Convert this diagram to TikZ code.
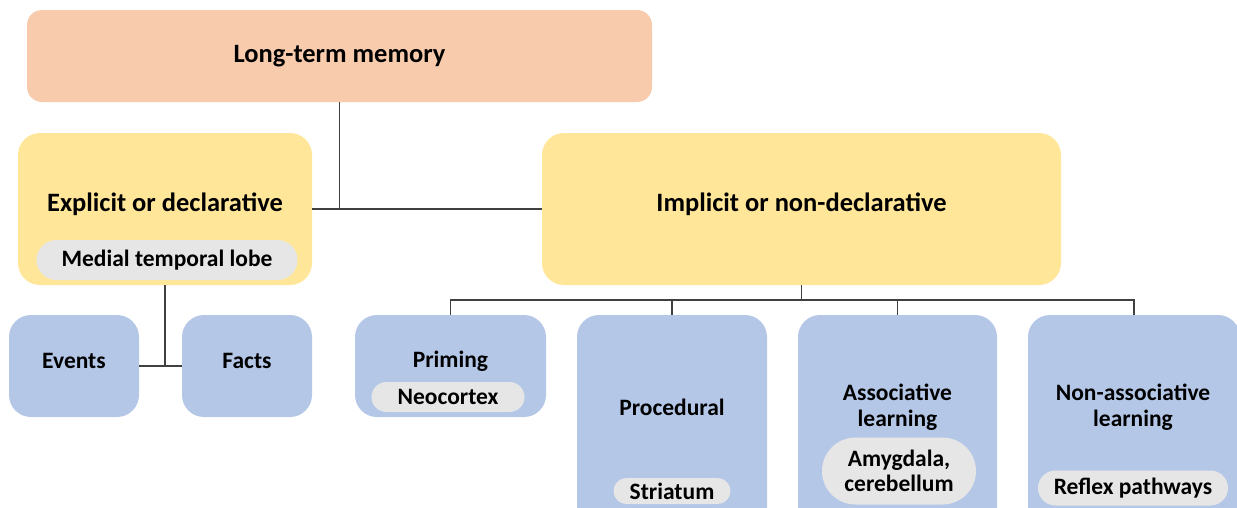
\documentclass[tikz,border=0pt]{standalone}
\usepackage{fontspec}
\setmainfont{Carlito}
\usetikzlibrary{shapes.misc,positioning,calc}
\definecolor{ltmfill}{HTML}{F8CBAD}
\definecolor{typefill}{HTML}{FFE699}
\definecolor{kindfill}{HTML}{B4C7E7}
\definecolor{areafill}{HTML}{E7E6E6}
\definecolor{linkgray}{HTML}{404040}

\begin{document}
\begin{tikzpicture}[x=1pt, y=-1pt, font=\bfseries,
  box/.style={rounded corners=22pt, inner sep=0pt, align=center},
  topbox/.style={box, rounded corners=15pt, fill=ltmfill, font=\bfseries\fontsize{26.5}{30}\selectfont},
  typebox/.style={box, fill=typefill},
  kindbox/.style={box, fill=kindfill},
  bigtext/.style={font=\bfseries\fontsize{26.5}{30}\selectfont, align=center},
  smalltext/.style={font=\bfseries\fontsize{23.5}{26}\selectfont, align=center},
  area/.style={rounded rectangle, fill=areafill, inner sep=0pt, smalltext, font=\bfseries\fontsize{23.5}{25}\selectfont},
  link/.style={draw=linkgray, line width=1.2pt}]
\useasboundingbox (0,0) rectangle (1237,507);
\clip (0,0) rectangle (1237,507);

% top level
\node[topbox, minimum width=625pt, minimum height=92pt] (ltm) at (339.5,56) {Long-term memory};

% declarative / non-declarative
\node[typebox, minimum width=294pt, minimum height=152pt] (expl) at (165,209) {};
\node[bigtext] (expltxt) at (165,204) {Explicit or declarative};
\node[area, minimum width=261pt, minimum height=40pt] (mtl) at (167,260) {Medial temporal lobe};
\node[typebox, minimum width=519pt, minimum height=152pt] (impl) at (801.5,209) {};
\node[bigtext] (impltxt) at (801.5,204) {Implicit or non-declarative};

% explicit kinds
\node[kindbox, minimum width=130pt, minimum height=102pt] (events) at (74,366) {};
\node[smalltext] (eventstxt) at (74,361) {Events};
\node[kindbox, minimum width=130pt, minimum height=102pt] (facts) at (247,366) {};
\node[smalltext] (factstxt) at (247,361) {Facts};

% implicit kinds
\node[kindbox, minimum width=191pt, minimum height=102pt] (prim) at (450.5,366) {};
\node[smalltext] (primtxt) at (450.5,361) {Priming};
\node[area, minimum width=153pt, minimum height=30pt] (neo) at (448,397) {Neocortex};

\node[kindbox, minimum width=190pt, minimum height=215pt] (proc) at (672,422.5) {};
\node[smalltext] (proctxt) at (672,407) {Procedural};
\node[area, minimum width=117pt, minimum height=26pt] (stri) at (672,491) {Striatum};

\node[kindbox, minimum width=199pt, minimum height=215pt] (assoc) at (897.5,422.5) {};
\node[smalltext] (assoctxt) at (897.5,407) {Associative\\learning};
\node[area, minimum width=154pt, minimum height=67pt] (amyg) at (899,471) {Amygdala,\\cerebellum};

\node[kindbox, minimum width=212pt, minimum height=215pt] (nonassoc) at (1134,422.5) {};
\node[smalltext] (nonassoctxt) at (1133,407) {Non-associative\\learning};
\node[area, minimum width=190pt, minimum height=35pt] (reflex) at (1133,488) {Reflex pathways};

% connectors
\draw[link] (ltm.south) -- (ltm.south |- expl.east);
\draw[link] (expl.east) -- (impl.west);
\draw[link] (expl.south) -- (expl.south |- events.east);
\draw[link] (events.east) -- (facts.west);
\coordinate (bus) at (801.5,300);
\draw[link] (impl.south) -- (bus);
\draw[link] (prim.north) |- (bus) -| (nonassoc.north);
\draw[link] (proc.north) -- (proc.north |- bus);
\draw[link] (assoc.north) -- (assoc.north |- bus);
\end{tikzpicture}
\end{document}
